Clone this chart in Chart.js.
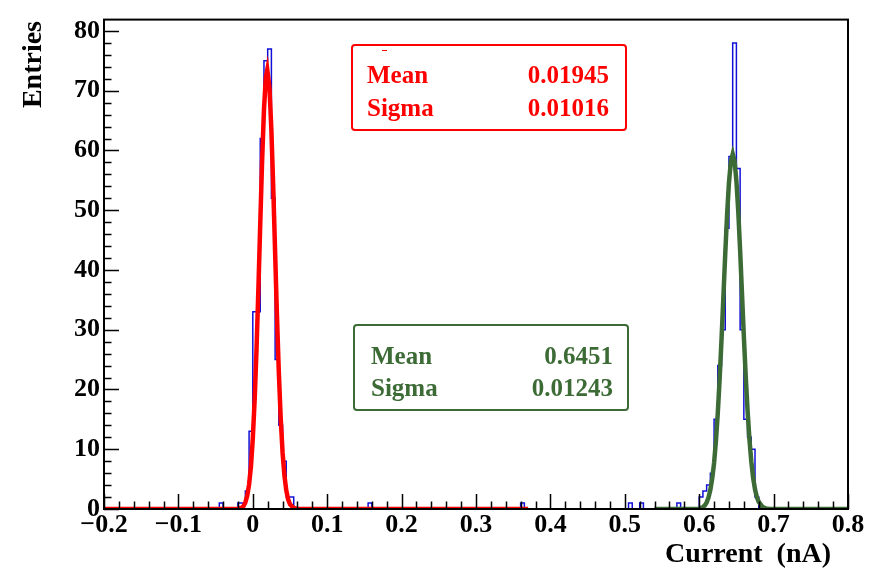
<!DOCTYPE html>
<html>
<head>
<meta charset="utf-8">
<script src="https://cdn.jsdelivr.net/npm/chart.js@4/dist/chart.umd.min.js"></script>
<style>
  html, body { margin: 0; padding: 0; background: #fff; }
  #wrap { width: 869px; height: 572px; }
</style>
</head>
<body>
<div id="wrap"><canvas id="c"></canvas></div>
<script>
// ─── DATA ─────────────────────────────────────────────────────────
const xMin = -0.2, xMax = 0.8, binWidth = 0.005, yMax = 81.9;

// non-empty bins: lower edge (nA) and entries
const binLowEdges = [-0.045, -0.02, -0.015, -0.01, -0.005, 0, 0.005, 0.01, 0.015, 0.02, 0.025, 0.03, 0.035, 0.04, 0.045, 0.05,
                     0.155, 0.36, 0.505, 0.52, 0.57,
                     0.6, 0.605, 0.61, 0.615, 0.62, 0.625, 0.63, 0.635, 0.64, 0.645, 0.65, 0.655, 0.66, 0.665, 0.67, 0.675];
const binCounts   = [1, 1, 1, 3, 13, 33, 33, 62, 75, 77, 52, 25, 14, 8, 2, 2,
                     1, 1, 1, 1, 1,
                     2, 3, 4, 6, 15, 24, 30, 47, 59, 78, 57, 30, 15, 12, 10, 2];

// red fit curve
const redFitX = [-0.2, -0.02, -0.015, -0.0125, -0.01, -0.0075, -0.005, -0.0025, 0, 0.0025, 0.005, 0.0075, 0.01, 0.0125, 0.015, 0.0175,
                 0.01945, 0.0225, 0.025, 0.0275, 0.03, 0.0325, 0.035, 0.0375, 0.04, 0.0425, 0.045, 0.0475, 0.05, 0.055, 0.06, 0.37];
const redFitY = [0, 0.05, 0.2, 0.5, 1.1, 2.2, 4.1, 7.1, 11.8, 18.3, 26.7, 36.8, 47.7, 58.2, 66.8, 72.2,
                 73.5, 70.3, 63.3, 53.7, 42.9, 32.2, 22.8, 15.2, 9.5, 5.6, 3.1, 1.6, 0.8, 0.16, 0.02, 0];

// green fit curve
const greenFitX = [0.54, 0.6, 0.605, 0.6075, 0.61, 0.6125, 0.615, 0.6175, 0.62, 0.6225, 0.625, 0.6275, 0.63, 0.6325, 0.635, 0.6375,
                   0.64, 0.6425, 0.6451, 0.6475, 0.65, 0.6525, 0.655, 0.6575, 0.66, 0.6625, 0.665, 0.6675, 0.67, 0.6725, 0.675,
                   0.6775, 0.68, 0.685, 0.69, 0.695, 0.8];
const greenFitY = [0, 0.05, 0.33, 0.6, 1.1, 1.9, 3.2, 5.1, 7.7, 11.4, 16.1, 21.8, 28.4, 35.5, 42.7, 49.3,
                   54.6, 58.1, 59.4, 58.3, 54.9, 49.8, 43.3, 36.1, 28.9, 22.3, 16.5, 11.7, 8.0, 5.2, 3.3,
                   2.0, 1.2, 0.35, 0.09, 0.02, 0];

const xTickValues = [-0.2, -0.1, 0, 0.1, 0.2, 0.3, 0.4, 0.5, 0.6, 0.7, 0.8];
const yTickValues = [0, 10, 20, 30, 40, 50, 60, 70, 80];

const statLabels       = ['Mean', 'Sigma'];
const redStatValues    = ['0.01945', '0.01016'];
const greenStatValues  = ['0.6451', '0.01243'];

// ─── STYLE ────────────────────────────────────────────────────────
const RED = '#ff0000';
const GREEN = '#3c6b36';
const BLUE = '#1010d8';
const SERIF = '"Liberation Serif", "Times New Roman", serif';

// ─── BUILD HISTOGRAM STEPS ────────────────────────────────────────
const nBins = Math.round((xMax - xMin) / binWidth);
const counts = new Array(nBins).fill(0);
binLowEdges.forEach((lo, k) => { counts[Math.round((lo - xMin) / binWidth)] = binCounts[k]; });
const histPoints = counts.map((c, i) => ({ x: xMin + i * binWidth, y: c }));
histPoints.push({ x: xMax, y: 0 });

const redPoints = redFitX.map((x, i) => ({ x, y: redFitY[i] }));
const greenPoints = greenFitX.map((x, i) => ({ x, y: greenFitY[i] }));

// ─── FRAME, TICKS, TITLES, STAT BOXES ─────────────────────────────
function statBox(ctx, color, box, values) {
  ctx.save();
  ctx.strokeStyle = color; ctx.lineWidth = 2;
  ctx.beginPath();
  ctx.roundRect(box.l, box.t, box.r - box.l, box.b - box.t, 3);
  ctx.stroke();
  ctx.fillStyle = color;
  ctx.font = 'bold 25px ' + SERIF;
  ctx.textBaseline = 'alphabetic';
  statLabels.forEach((lab, i) => {
    ctx.textAlign = 'left';
    ctx.fillText(lab, box.tx, box.rows[i]);
    ctx.textAlign = 'right';
    ctx.fillText(values[i], box.vx, box.rows[i]);
  });
  ctx.restore();
}

const rootFrame = {
  id: 'rootFrame',
  afterDatasetsDraw(chart) {
    const { ctx, chartArea: a, scales: { x, y } } = chart;
    ctx.save();
    ctx.strokeStyle = '#000';
    ctx.lineWidth = 1.5;
    ctx.beginPath();
    for (let i = 0; i <= 50; i++) {
      const px = Math.round(x.getPixelForValue(xMin + i * 0.02)) + 0.5;
      const len = i % 5 === 0 ? 15 : 7.5;
      ctx.moveTo(px, a.bottom); ctx.lineTo(px, a.bottom - len);
    }
    for (let i = 0; i * 2 <= yMax; i++) {
      const py = Math.round(y.getPixelForValue(i * 2)) + 0.5;
      const len = i % 5 === 0 ? 15 : 7.5;
      ctx.moveTo(a.left, py); ctx.lineTo(a.left + len, py);
    }
    ctx.stroke();
    ctx.lineWidth = 2;
    ctx.strokeRect(a.left, a.top, a.right - a.left, a.bottom - a.top);

    // axis titles
    ctx.fillStyle = '#000';
    ctx.font = 'bold 28px ' + SERIF;
    ctx.textAlign = 'right';
    ctx.textBaseline = 'alphabetic';
    ctx.fillText('Current  (nA)', 831, 562);
    ctx.translate(41, 21);
    ctx.rotate(-Math.PI / 2);
    ctx.fillText('Entries', 0, 0);
    ctx.restore();

    statBox(ctx, RED, { l: 352, t: 45, r: 626, b: 130, tx: 367, vx: 609, rows: [83, 116] }, redStatValues);
    ctx.save();
    ctx.strokeStyle = RED; ctx.lineWidth = 1;
    ctx.beginPath(); ctx.moveTo(382, 50.5); ctx.lineTo(387, 50.5); ctx.stroke();
    ctx.restore();
    statBox(ctx, GREEN, { l: 354, t: 325, r: 628, b: 410, tx: 371, vx: 613, rows: [364, 396] }, greenStatValues);
  }
};

// ─── CHART ────────────────────────────────────────────────────────
new Chart(document.getElementById('c'), {
  type: 'line',
  data: {
    datasets: [
      { data: redPoints, borderColor: RED, borderWidth: 4.5, pointRadius: 0, tension: 0, order: 1 },
      { data: greenPoints, borderColor: GREEN, borderWidth: 4.5, pointRadius: 0, tension: 0, order: 2 },
      { data: histPoints, borderColor: BLUE, borderWidth: 1.5, pointRadius: 0, stepped: true, order: 3 }
    ]
  },
  options: {
    responsive: true, maintainAspectRatio: false, animation: false,
    layout: { padding: { top: 7, right: 21, left: 0, bottom: 0 } },
    plugins: { legend: { display: false }, tooltip: { enabled: false } },
    scales: {
      x: {
        type: 'linear', min: xMin, max: xMax,
        grid: { display: false, drawTicks: false }, border: { display: false },
        afterBuildTicks: s => { s.ticks = xTickValues.map(v => ({ value: v })); },
        afterFit: s => { s.height = 63; },
        ticks: {
          padding: 1, color: '#000', maxRotation: 0, autoSkip: false,
          font: { family: SERIF, size: 26, weight: 'bold' },
          callback: v => v === 0 ? '0' : (v < 0 ? '\u2212' : '') + Math.abs(v).toFixed(1)
        }
      },
      y: {
        min: 0, max: yMax,
        grid: { display: false, drawTicks: false }, border: { display: false },
        afterBuildTicks: s => { s.ticks = yTickValues.map(v => ({ value: v })); },
        afterFit: s => { s.width = 104; },
        ticks: { padding: 4, color: '#000', font: { family: SERIF, size: 26, weight: 'bold' } }
      }
    }
  },
  plugins: [rootFrame]
});
</script>
</body>
</html>
